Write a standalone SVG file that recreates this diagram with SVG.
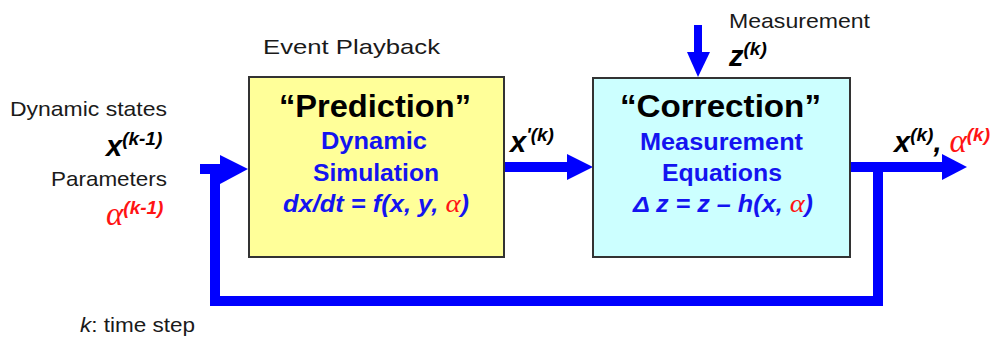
<svg xmlns="http://www.w3.org/2000/svg" width="1002" height="339" viewBox="0 0 1002 339">
  <style>
    text { font-family: "Liberation Sans", Arial, sans-serif; }
    .lbl { font-size: 21px; fill: #1a1a1a; }
    .var { font-size: 29px; font-weight: bold; font-style: italic; fill: #000; }
    .sup { font-size: 19px; }
    .title { font-size: 31px; font-weight: bold; fill: #000; }
    .sub { font-size: 23px; font-weight: bold; fill: #1414f0; }
    .eq { font-size: 23px; font-weight: bold; font-style: italic; fill: #1414f0; }
    .alpha { font-family: "Liberation Serif", "Times New Roman", serif; font-style: italic; font-weight: normal; fill: #ff1414; }
    .red { fill: #ff1414; }
    .box { stroke: #333; stroke-width: 2; }
    .flow { stroke: #0000ff; stroke-width: 10; fill: none; }
    .head { fill: #0000ff; }
  </style>

  <!-- connectors -->
  <g id="connectors">
    <!-- feedback loop back to the prediction input -->
    <polyline class="flow" points="878,167 878,301 215,301 215,169" stroke-linejoin="miter"/>
    <line class="flow" x1="200" y1="169" x2="224" y2="169"/>
    <polygon class="head" points="220,155 248,169 220,184"/>
    <!-- prediction to correction -->
    <line class="flow" x1="503" y1="167" x2="570" y2="167"/>
    <polygon class="head" points="567,154 593,167 567,180"/>
    <!-- correction output -->
    <line class="flow" x1="850" y1="167" x2="946" y2="167"/>
    <polygon class="head" points="942,154 967,167 942,180"/>
    <!-- measurement input -->
    <line x1="698" y1="25" x2="698" y2="55" stroke="#0000ff" stroke-width="8"/>
    <polygon class="head" points="687,52 698,77 710,52"/>
  </g>

  <!-- prediction block -->
  <g id="prediction">
    <rect class="box" x="249" y="77" width="255" height="180" fill="#ffff99"/>
    <text class="title" x="279" y="117" textLength="192" lengthAdjust="spacingAndGlyphs">“Prediction”</text>
    <text class="sub" x="321" y="149" textLength="106" lengthAdjust="spacingAndGlyphs">Dynamic</text>
    <text class="sub" x="313" y="181" textLength="126" lengthAdjust="spacingAndGlyphs">Simulation</text>
    <text class="eq" x="283" y="212" textLength="186" lengthAdjust="spacingAndGlyphs">dx/dt = f(x, y, <tspan class="alpha" font-size="26">α</tspan>)</text>
  </g>

  <!-- correction block -->
  <g id="correction">
    <rect class="box" x="593" y="78" width="257" height="179" fill="#ccffff"/>
    <text class="title" x="620" y="117" textLength="201" lengthAdjust="spacingAndGlyphs">“Correction”</text>
    <text class="sub" x="640" y="150" textLength="163" lengthAdjust="spacingAndGlyphs">Measurement</text>
    <text class="sub" x="662" y="181" textLength="120" lengthAdjust="spacingAndGlyphs">Equations</text>
    <text class="eq" x="633" y="212" textLength="180" lengthAdjust="spacingAndGlyphs">Δ z = z – h(x, <tspan class="alpha" font-size="26">α</tspan>)</text>
  </g>

  <!-- labels -->
  <g id="labels">
    <text class="lbl" x="263" y="54" font-size="23" textLength="177" lengthAdjust="spacingAndGlyphs">Event Playback</text>
    <text class="lbl" x="729" y="28" font-size="22" textLength="141" lengthAdjust="spacingAndGlyphs">Measurement</text>
    <text class="var" x="729" y="66" font-size="27">z<tspan class="sup" dy="-11">(k)</tspan></text>

    <text class="lbl" x="10" y="116" font-size="20" textLength="157" lengthAdjust="spacingAndGlyphs">Dynamic states</text>
    <text class="var" x="106" y="156">x<tspan class="sup" dy="-11">(k-1)</tspan></text>
    <text class="lbl" x="51" y="186" font-size="20" textLength="116" lengthAdjust="spacingAndGlyphs">Parameters</text>
    <text class="var" x="106" y="225"><tspan class="alpha" font-size="33">α</tspan><tspan class="sup red" dy="-11">(k-1)</tspan></text>

    <text class="var" x="510" y="152">x<tspan class="sup" dy="-11">'(k)</tspan></text>
    <text class="var" x="894" y="152" font-size="28">x<tspan class="sup" dy="-11">(k)</tspan><tspan dy="11">,</tspan><tspan class="alpha" dx="8" font-size="33">α</tspan><tspan class="sup red" dy="-11">(k)</tspan></text>

    <text class="lbl" x="80" y="332" textLength="115" lengthAdjust="spacingAndGlyphs"><tspan font-style="italic">k</tspan>: time step</text>
  </g>
</svg>
